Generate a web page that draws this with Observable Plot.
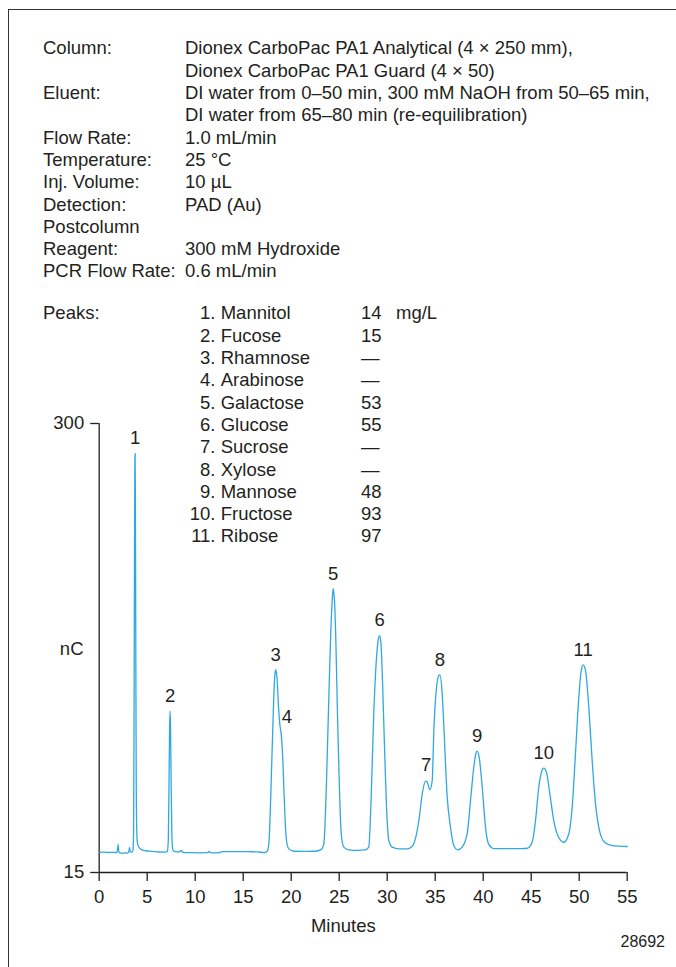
<!DOCTYPE html>
<html>
<head>
<meta charset="utf-8">
<script src="https://cdn.jsdelivr.net/npm/d3@7"></script>
<script src="https://cdn.jsdelivr.net/npm/@observablehq/plot@0.6"></script>
<style>
  html, body { margin: 0; padding: 0; background: #fff; }
  #page { position: relative; width: 676px; height: 967px; overflow: hidden; background: #fff;
          font-family: "Liberation Sans", Arial, Helvetica, sans-serif; color: #231f20; }
  #frame { position: absolute; left: 8px; top: 9.3px; width: 800px; height: 1100px;
           border-left: 1.3px solid #333; border-top: 1.3px solid #333; }
  .t { position: absolute; white-space: pre; font-size: 18.5px; line-height: 22.3px; z-index: 2; }
  #chart { position: absolute; left: 0; top: 400px; z-index: 1; }
</style>
</head>
<body>
<div id="page">
  <div id="frame"></div>
  <div id="chart"></div>
</div>
<script>
// ---------- method text ----------
const headerLabels = ["Column:", "", "Eluent:", "", "Flow Rate:", "Temperature:", "Inj. Volume:",
  "Detection:", "Postcolumn", "Reagent:", "PCR Flow Rate:"];
const headerValues = ["Dionex CarboPac PA1 Analytical (4 × 250 mm),", "Dionex CarboPac PA1 Guard (4 × 50)",
  "DI water from 0–50 min, 300 mM NaOH from 50–65 min,", "DI water from 65–80 min (re-equilibration)",
  "1.0 mL/min", "25 °C", "10 µL", "PAD (Au)", "", "300 mM Hydroxide", "0.6 mL/min"];

// ---------- peak table ----------
const peakNames = ["Mannitol", "Fucose", "Rhamnose", "Arabinose", "Galactose", "Glucose",
  "Sucrose", "Xylose", "Mannose", "Fructose", "Ribose"];
const peakConc = ["14", "15", "—", "—", "53", "55", "—", "—", "48", "93", "97"];
const concUnit = "mg/L";

// ---------- axes ----------
const xTicks = [0, 5, 10, 15, 20, 25, 30, 35, 40, 45, 50, 55];
const yTicks = [15, 300];
const xDomain = [0, 55];
const yDomain = [15, 300];

// ---------- chromatogram trace (minutes, nC) ----------
const traceMinutes = [
  0.0, 0.5, 1.0, 1.5, 1.85, 1.93, 1.97, 2.02, 2.1, 2.4, 2.7, 2.9, 3.08, 3.16, 3.22, 3.35,
  3.5, 3.58, 3.63, 3.68, 3.72, 3.74, 3.77, 3.81, 3.86, 3.92, 4.0, 4.15, 4.4, 4.8, 5.5, 6.2, 6.9,
  7.1, 7.2, 7.27, 7.33, 7.38, 7.43, 7.49, 7.56, 7.65, 7.8, 8.3, 8.55, 8.7, 9.5, 10.5, 11.3, 11.45,
  11.6, 12.5, 12.8, 13.5, 14.5, 15.5, 16.5, 17.2, 17.5, 17.67, 17.8, 17.92, 18.03, 18.13, 18.26,
  18.37, 18.45, 18.54, 18.68, 18.81, 18.99, 19.13, 19.23, 19.37, 19.51, 19.75, 20.27, 21.5, 22.5,
  23.1, 23.4, 23.68, 23.92, 24.13, 24.27, 24.37, 24.45, 24.51, 24.65, 24.82, 25.0, 25.21, 25.48,
  26.0, 26.9, 27.7, 28.08, 28.33, 28.6, 28.89, 29.06, 29.2, 29.34, 29.51, 29.72, 29.93, 30.17,
  30.52, 31.21, 32.08, 32.5, 32.77, 33.3, 33.65, 34.0, 34.17, 34.44, 34.69, 34.86, 35.14, 35.38,
  35.48, 35.73, 35.9, 36.25, 36.59, 36.94, 37.35, 37.81, 38.33, 38.68, 39.02, 39.23, 39.37, 39.58,
  39.9, 40.24, 40.58, 41.1, 42.5, 44.0, 44.6, 45.1, 45.45, 45.79, 46.07, 46.31, 46.59, 46.94,
  47.35, 47.77, 48.4, 48.92, 49.27, 49.61, 49.96, 50.21, 50.41, 50.66, 51.0, 51.35, 51.7, 52.11,
  52.64, 53.44, 54.2, 55.0];
const traceNC = [
  27.8, 27.9, 27.7, 27.8, 27.6, 30.5, 32.8, 29.5, 27.6, 27.2, 27.5, 27.3, 28.0, 31.0, 28.5, 27.8,
  28.5, 40, 110, 220, 278, 281, 255, 160, 70, 40, 33, 31, 29.5, 28.8, 28.4, 28.0, 27.9,
  28.5, 36, 70, 105, 117.4, 108, 75, 42, 30, 28.4, 28.0, 29.0, 27.8, 27.6, 27.5, 27.6, 28.4,
  27.5, 27.6, 28.3, 28.2, 28.3, 28.2, 28.1, 27.6, 28.5, 33.2, 50, 73.4, 96, 115.7, 136.9,
  143.7, 142, 136.9, 120, 109.4, 100.9, 86.1, 69.1, 48, 35.3, 30, 28.5, 28.4, 28.5,
  29.5, 33.2, 73.4, 126.3, 168.6, 187.6, 195.1, 192, 187.6, 162.3, 115.7, 73.4, 39.6, 31.1,
  29.4, 29.0, 29.3, 31.1, 62.8, 115.7, 151.7, 162.3, 165.4, 161.2, 136.9, 94.5, 56.4, 35.3,
  31.1, 30.0, 30.0, 31, 33.2, 48, 64.9, 73, 72.3, 67.5, 73.4, 105.1, 132.6, 140.0,
  140.5, 128.4, 108, 63, 43.8, 32.1, 29.4, 31.1, 39.6, 60.7, 81.8, 90.3, 92.0, 88.2,
  69.1, 43.8, 32.8, 30.2, 30.1, 30.2, 30.4, 34.2, 48, 69.1, 78.7, 81.2, 78.7, 65,
  48, 38.5, 34.2, 39.6, 56.4, 90.3, 126.3, 143.2, 146.8, 143.2, 119.9, 86.1, 58.6, 41.7,
  34.2, 32.1, 31.7, 31.5];

// ---------- peak labels in the chart (apex positions) ----------
const apexLabels = ["1", "2", "3", "5", "6", "7", "8", "9", "10", "11"];
const apexMinutes = [3.74, 7.38, 18.37, 24.37, 29.2, 34.05, 35.48, 39.37, 46.31, 50.41];
const apexNC = [281, 117.4, 143.7, 195.1, 165.4, 73.4, 140.5, 92.0, 81.2, 146.8];
const shoulderLabel = ["4"];
const shoulderMinutes = [18.81];
const shoulderNC = [109.4];

const ink = "#231f20";
const traceColor = "#2fa8e0";
const page = document.getElementById("page");

function addText(txt, left, baseline, opts = {}) {
  const d = document.createElement("div");
  d.className = "t";
  d.textContent = txt;
  const fs = opts.fontSize || 18.5;
  const lh = opts.lineHeight || 22.3;
  d.style.fontSize = fs + "px";
  d.style.lineHeight = lh + "px";
  const base = (lh - 1.117 * fs) / 2 + 0.905 * fs;
  d.style.top = (baseline - base) + "px";
  if (opts.anchor === "end") { d.style.right = (676 - left) + "px"; }
  else if (opts.anchor === "middle") { d.style.left = left + "px"; d.style.transform = "translateX(-50%)"; }
  else { d.style.left = left + "px"; }
  page.appendChild(d);
}

// header block
const pitch = 22.3;
headerLabels.forEach((s, i) => { if (s) addText(s, 43, 55 + i * pitch); });
headerValues.forEach((s, i) => { if (s) addText(s, 185, 55 + i * pitch); });

// peaks table
addText("Peaks:", 43, 320);
peakNames.forEach((name, i) => {
  const b = 320 + i * pitch;
  addText((i + 1) + ".", 215.5, b, {anchor: "end"});
  addText(name, 220.7, b);
  addText(peakConc[i], 361, b);
});
addText(concUnit, 396, 320);

// axis titles and figure number
addText("nC", 71.7, 655.6, {anchor: "middle"});
addText("Minutes", 343.3, 933, {anchor: "middle"});
addText("28692", 665, 948, {anchor: "end", fontSize: 16, lineHeight: 18});

// ---------- chart ----------
const trace = traceMinutes.map((m, i) => ({minutes: m, nC: traceNC[i]}));
const apex = apexLabels.map((l, i) => ({label: l, minutes: apexMinutes[i], nC: apexNC[i]}));
const shoulder = shoulderLabel.map((l, i) => ({label: l, minutes: shoulderMinutes[i], nC: shoulderNC[i]}));

const chart = Plot.plot({
  width: 676,
  height: 567,
  marginLeft: 98.7,
  marginRight: 49.3,
  marginTop: 23,
  marginBottom: 95,
  x: {domain: xDomain},
  y: {domain: yDomain},
  style: {
    background: "transparent",
    fontFamily: "'Liberation Sans', Arial, Helvetica, sans-serif",
    fontSize: "18.5px",
    color: ink,
    overflow: "visible"
  },
  marks: [
    Plot.ruleY([yDomain[0]], {stroke: ink, strokeWidth: 1.3}),
    Plot.ruleX([xDomain[0]], {y1: yDomain[0], y2: yDomain[1], stroke: ink, strokeWidth: 1.3}),
    Plot.axisX({ticks: xTicks, tickSize: 9, tickPadding: 8, tickFormat: d => String(d),
      label: null, stroke: ink, strokeWidth: 1.3, fill: ink}),
    Plot.axisY({ticks: yTicks, tickSize: 8.5, tickPadding: 6.5, tickFormat: d => String(d),
      label: null, stroke: ink, strokeWidth: 1.3, fill: ink}),
    Plot.line(trace, {x: "minutes", y: "nC", curve: "monotone-x", stroke: traceColor, strokeWidth: 1.3}),
    Plot.text(apex, {x: "minutes", y: "nC", text: "label", dy: -15, fill: ink}),
    Plot.text(shoulder, {x: "minutes", y: "nC", text: "label", dx: 7, dy: -7, fill: ink})
  ]
});
document.getElementById("chart").appendChild(chart);
</script>
</body>
</html>
